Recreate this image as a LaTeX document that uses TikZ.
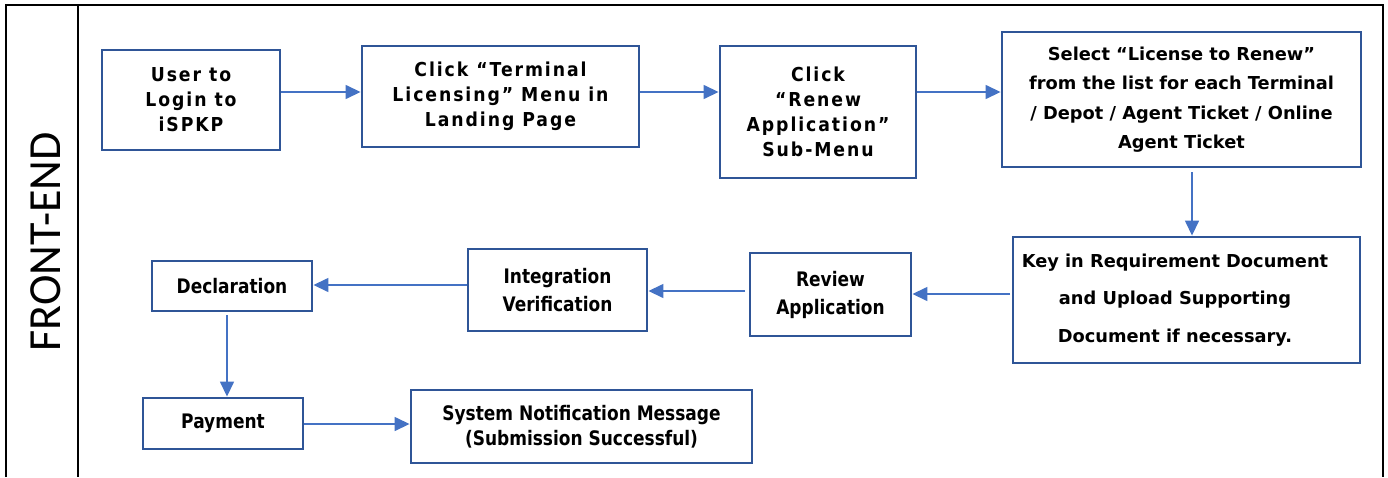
\documentclass[tikz,border=0pt]{standalone}
\usepackage{fontspec}
\setmainfont{DejaVu Sans}
\newfontfamily\topfont{DejaVu Sans}[FakeStretch=0.9,LetterSpace=10]
\newfontfamily\narrowfont{DejaVu Sans}[FakeStretch=0.85]
\newfontfamily\lanefont{Carlito}
\usetikzlibrary{arrows.meta}

\definecolor{boxblue}{RGB}{47,85,151}
\definecolor{linkblue}{RGB}{68,114,196}

\tikzset{
  stepbox/.style={draw=boxblue, line width=1.45pt, fill=white, inner sep=0pt,
                  align=center, text=black},
  topstep/.style={stepbox, font={\topfont\bfseries\fontsize{9.6pt}{12.5pt}\selectfont}},
  widestep/.style={stepbox, font={\bfseries\fontsize{8.9pt}{14.75pt}\selectfont}},
  lowstep/.style={stepbox, font={\narrowfont\bfseries\fontsize{10pt}{14pt}\selectfont}},
  flow/.style={draw=linkblue, line width=0.75pt, -{Triangle[length=7.5pt,width=7pt]}},
  frame/.style={draw=black, line width=1.1pt}
}

\begin{document}
\begin{tikzpicture}[x=0.5pt, y=-0.5pt]
  \useasboundingbox (0,0) rectangle (1388,477);

  % swimlane frame
  \coordinate (tl) at (6,5);
  \coordinate (tr) at (1383,5);
  \coordinate (lanediv) at (78,5);
  \draw[frame] (6,477) -- (tl) -- (tr) -- (1383,477);
  \draw[frame] (lanediv) -- (78,477);
  \node[font={\lanefont\fontsize{23pt}{26pt}\selectfont}, rotate=90, inner sep=0pt] (lane) at (46,242) {FRONT-END};

  % first row
  \node[topstep, minimum width=89pt, minimum height=50pt] (b1) at (191,100) {User to\\Login to\\iSPKP};
  \node[topstep, minimum width=138.5pt, minimum height=50.5pt] (b2) at (500.5,96.5) {Click “Terminal\\Licensing” Menu in\\Landing Page};
  \node[topstep, minimum width=98pt, minimum height=66pt] (b3) at (818,112) {Click\\“Renew\\Application”\\Sub-Menu};
  \node[widestep, minimum width=179.5pt, minimum height=67.5pt] (b4) at (1181.5,99.5) {Select “License to Renew”\\from the list for each Terminal\\/ Depot / Agent Ticket / Online\\Agent Ticket};

  % second row
  \node[stepbox, minimum width=173.5pt, minimum height=63pt] (b5) at (1186.5,300) {};
  \node[align=center, inner sep=0pt, font={\bfseries\fontsize{8.9pt}{18.75pt}\selectfont}] (t5) at (1175,300) {Key in Requirement Document\\and Upload Supporting\\Document if necessary.};
  \node[lowstep, minimum width=80.5pt, minimum height=41.5pt] (rev) at (830.5,294.5) {Review\\Application};
  \node[lowstep, minimum width=89.5pt, minimum height=41pt] (integ) at (557.5,290) {Integration\\Verification};
  \node[lowstep, minimum width=80pt, minimum height=25pt] (decl) at (232,286) {Declaration};

  % third row
  \node[lowstep, minimum width=80pt, minimum height=25.5pt] (pay) at (223,423.5) {Payment};
  \node[lowstep, minimum width=170.5pt, minimum height=36.5pt, font={\narrowfont\bfseries\fontsize{10pt}{12.5pt}\selectfont}] (sys) at (581.5,426.5) {System Notification Message\\(Submission Successful)};

  % connector levels
  \coordinate (row1) at (0,92);
  \coordinate (c45) at (1192,172);
  \coordinate (c5r) at (1010,294);
  \coordinate (cri) at (745,291);
  \coordinate (row2) at (0,285);
  \coordinate (cdp) at (227,315);
  \coordinate (row3) at (0,424);

  % connectors
  \draw[flow] (b1.east |- row1) -- (b2.west |- row1);
  \draw[flow] (b2.east |- row1) -- (b3.west |- row1);
  \draw[flow] (b3.east |- row1) -- (b4.west |- row1);
  \draw[flow] (c45) -- (c45 |- b5.north);
  \draw[flow] (c5r) -- (rev.east |- c5r);
  \draw[flow] (cri) -- (integ.east |- cri);
  \draw[flow] (integ.west |- row2) -- (decl.east |- row2);
  \draw[flow] (cdp) -- (cdp |- pay.north);
  \draw[flow] (pay.east |- row3) -- (sys.west |- row3);
\end{tikzpicture}
\end{document}
